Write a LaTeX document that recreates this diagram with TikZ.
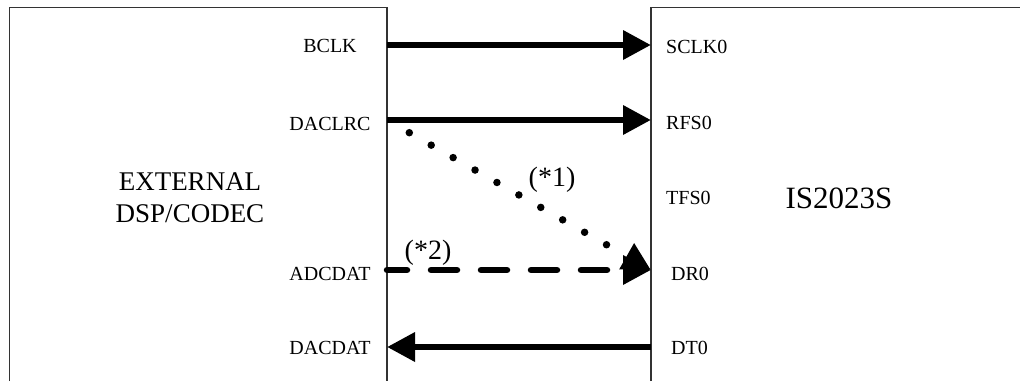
\documentclass[tikz,border=0pt]{standalone}
\usepackage{fontspec}
\setmainfont{Liberation Serif}
\usetikzlibrary{arrows.meta}

\begin{document}
\begin{tikzpicture}
[x=1pt,y=-1pt,%
  boxdecorate/.style={draw=black!80,line width=1.5pt},%
  pindecorate/.style={inner sep=0pt,anchor=base,font=\fontsize{20}{24}\selectfont},%
  chipdecorate/.style={inner sep=0pt,anchor=base,font=\fontsize{27}{32}\selectfont},%
  notedecorate/.style={inner sep=0pt,anchor=base,font=\fontsize{28}{32}\selectfont},%
  linedecorate/.style={line width=6.5pt,-{Triangle[length=28pt,width=28pt]}},%
  dashdecorate/.style={linedecorate,line cap=round,dash pattern=on 26pt off 24pt,dash phase=6pt},%
  dotdecorate/.style={line width=7.5pt,line cap=round,dash pattern=on 0pt off 25.2pt,%
    -{Triangle[length=28pt,width=28pt]}}]
\useasboundingbox (0,0) rectangle (1020,381);
%% chip outlines
\draw[boxdecorate] (9.5,381) -- (9.5,7.5) -- (387,7.5) -- (387,381);
\draw[boxdecorate] (651,381) -- (651,7.5) -- (1020,7.5);
%% pins on both chips
\foreach \pinname/\y in {bclk/45, daclrc/120, adcdat/270, dacdat/347} {
  \coordinate (\pinname) at (387,\y);
}
\foreach \pinname/\y in {sclk/45, rfs/120, dr/270, dt/347} {
  \coordinate (\pinname) at (651,\y);
}
\coordinate (dotstart) at (409.3,132.7);
%% pin names
\foreach \labelname/\x/\y/\text in {lbclk/330/52.5/BCLK, ldaclrc/330/130.5/DACLRC,
  ladcdat/330/280/ADCDAT, ldacdat/330/354/DACDAT} {
  \node (\labelname) at (\x,\y) [pindecorate] {\text};
}
\foreach \labelname/\x/\y/\text in {lsclk/666/53/SCLK0, lrfs/666/129/RFS0,
  ltfs/666/204/TFS0, ldr/671/280/DR0, ldt/671/354/DT0} {
  \node (\labelname) at (\x,\y) [pindecorate,anchor=base west] {\text};
}
%% chip names
\node (ext) at (190,190) [chipdecorate] {EXTERNAL};
\node (codec) at (190,222) [chipdecorate] {DSP/CODEC};
\node (chip) at (839,208) [chipdecorate,font=\fontsize{31}{36}\selectfont] {IS2023S};
%% notes
\node (note1) at (552,186) [notedecorate] {(*1)};
\node (note2) at (428,259) [notedecorate] {(*2)};
%% signals
\draw[linedecorate] (bclk) -- (sclk);
\draw[linedecorate] (daclrc) -- (rfs);
\draw[linedecorate] (dt) -- (dacdat);
\draw[dashdecorate] (adcdat) -- (dr);
\draw[dotdecorate] (dotstart) -- (dr);
\end{tikzpicture}
\end{document}
